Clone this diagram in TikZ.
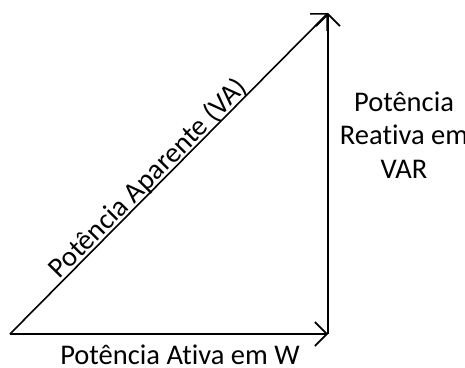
\documentclass[tikz,border=0pt]{standalone}
\usepackage{fontspec}
\setmainfont{Carlito}[Ligatures=NoCommon]
\usepackage{tikz}
\usetikzlibrary{arrows.meta,positioning}
\tikzset{
  vec/.style={line width=1.6pt, draw=black, -{Straight Barb[length=12pt, width=24pt, line width=1.6pt]}},
  lbl/.style={font=\fontsize{28.5}{33.5}\selectfont, inner sep=0pt, align=center},
}
\begin{document}
\begin{tikzpicture}[x=1pt, y=1pt]
  \useasboundingbox (0,0) rectangle (465,367);
  % triangle corners
  \coordinate (O) at (10,33);
  \coordinate (P) at (328,33);
  \coordinate (Q) at (328,354);
  % power vectors
  \draw[vec] (O) -- (P);
  \draw[vec] (P) -- (Q);
  \draw[vec] (O) -- (Q) node[lbl, sloped, pos=0.46, anchor=base, yshift=3pt] (apar) {Potência Aparente (VA)};
  % labels
  \node[lbl] (ativa) at (180,12) {Potência Ativa em W};
  \node[lbl] (reat) at (404,232) {Potência\\Reativa em\\VAR};
\end{tikzpicture}
\end{document}
